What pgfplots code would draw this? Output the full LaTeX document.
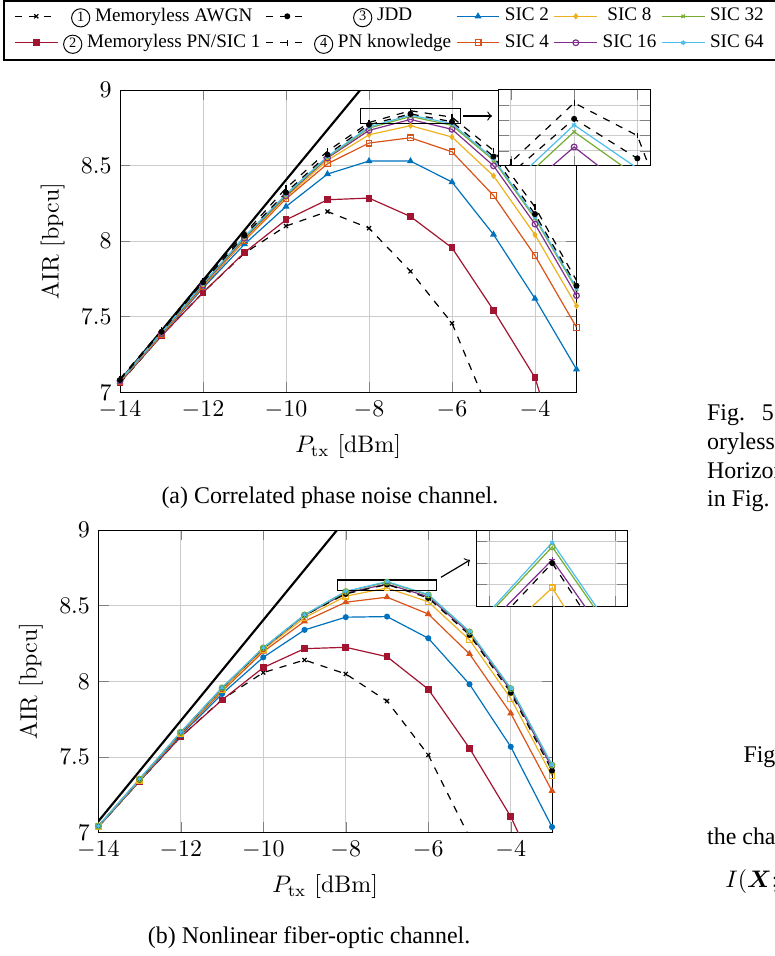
\documentclass[border=0pt]{standalone}
\usepackage{amsmath}
\usepackage{fontspec}
\usepackage{pgfplots}
\usepackage{pgfplotstable}
\pgfplotsset{compat=1.18}
\newfontfamily\tnr{Liberation Serif}

\definecolor{cA}{RGB}{0,114,189}
\definecolor{cB}{RGB}{217,83,25}
\definecolor{cC}{RGB}{237,177,32}
\definecolor{cD}{RGB}{126,47,142}
\definecolor{cE}{RGB}{119,172,48}
\definecolor{cF}{RGB}{77,190,238}
\definecolor{cR}{RGB}{162,20,47}

% (a) correlated phase noise channel
\pgfplotstableread{
x    awgn  pn1   jdd   pnk   s2    s4    s8    s16   s32   s64
-14  7.060 7.064 7.081 7.090 7.068 7.070 7.073 7.075 7.076 7.078
-13  7.375 7.373 7.400 7.410 7.378 7.380 7.385 7.390 7.393 7.395
-12  7.660 7.660 7.728 7.740 7.690 7.700 7.705 7.710 7.715 7.720
-11  7.920 7.925 8.037 8.050 7.980 8.004 8.010 8.020 8.025 8.030
-10  8.100 8.141 8.322 8.350 8.229 8.280 8.290 8.300 8.305 8.310
-9   8.196 8.274 8.572 8.595 8.444 8.512 8.535 8.550 8.555 8.560
-8   8.086 8.285 8.770 8.785 8.530 8.649 8.704 8.733 8.748 8.756
-7   7.800 8.163 8.842 8.863 8.530 8.684 8.764 8.805 8.825 8.834
-6   7.457 7.956 8.790 8.820 8.391 8.591 8.689 8.740 8.766 8.777
-5   6.800 7.543 8.560 8.600 8.044 8.302 8.432 8.499 8.535 8.545
-4   6.100 7.097 8.179 8.225 7.620 7.904 8.042 8.113 8.150 8.160
-3   5.400 6.200 7.705 7.740 7.152 7.430 7.572 7.640 7.680 7.690
}\tabA

% (b) nonlinear fiber-optic channel
\pgfplotstableread{
x    awgn  pn1   jdd   s2    s4    s8    s16   s32   s64
-14  7.038 7.038 7.044 7.040 7.042 7.043 7.044 7.044 7.044
-13  7.340 7.340 7.350 7.342 7.346 7.348 7.352 7.354 7.355
-12  7.634 7.634 7.662 7.645 7.652 7.658 7.662 7.664 7.665
-11  7.880 7.877 7.954 7.917 7.935 7.945 7.955 7.957 7.958
-10  8.058 8.091 8.218 8.159 8.196 8.210 8.218 8.221 8.222
-9   8.141 8.216 8.436 8.340 8.397 8.420 8.435 8.439 8.440
-8   8.049 8.225 8.578 8.424 8.523 8.563 8.584 8.593 8.595
-7   7.870 8.163 8.640 8.428 8.556 8.617 8.643 8.655 8.659
-6   7.514 7.948 8.551 8.285 8.445 8.526 8.560 8.571 8.574
-5   6.970 7.558 8.307 7.981 8.181 8.274 8.318 8.327 8.330
-4   6.300 7.106 7.925 7.568 7.789 7.888 7.940 7.952 7.955
-3   5.600 6.520 7.410 7.038 7.276 7.375 7.430 7.447 7.450
}\tabB

\pgfplotsset{
  air/.style={scale only axis, xmin=-14, xmax=-3, ymin=7, ymax=9,
    xtick={-14,-12,-10,-8,-6,-4}, ytick={7,7.5,8,8.5,9},
    grid=major, major grid style={gray!40},
    xlabel={$P_{\mathrm{tx}}$ [dBm]}, ylabel={AIR [bpcu]},
    every axis plot/.append style={line width=0.5pt, mark size=1.2pt}},
  zoombox/.style={scale only axis, axis background/.style={fill=white},
    xmin=-8.2, xmax=-5.8, xtick={-8,-7,-6}, xticklabels={}, yticklabels={},
    grid=major, major grid style={gray!40},
    every axis plot/.append style={line width=0.5pt, mark size=1.2pt}},
  dsh/.style={black, dashed, mark options={solid}},
  legend image code/.code={\draw[mark repeat=2, mark phase=2, #1]
    plot coordinates {(0cm,0cm) (0.315cm,0cm) (0.63cm,0cm)};},
}

\newcommand\cnum[1]{\tikz[baseline=(n.base)]\node[draw, circle, inner sep=0.6pt,
  line width=0.4pt, font=\tnr\fontsize{6}{7}\selectfont](n){#1};}

\newcommand\capline{\addplot[black, line width=0.9pt, no marks, forget plot]
  coordinates {(-14,7.075) (-8,9.07)};}

\newcommand\plotsA{
  \addplot[dsh, mark=x, forget plot] table[x=x, y=awgn] {\tabA};
  \addplot[cR, mark=square*, forget plot] table[x=x, y=pn1] {\tabA};
  \addplot[cA, mark=triangle*, forget plot] table[x=x, y=s2] {\tabA};
  \addplot[cB, mark=square, forget plot] table[x=x, y=s4] {\tabA};
  \addplot[cC, mark=diamond*, mark size=1pt, forget plot] table[x=x, y=s8] {\tabA};
  \addplot[cD, mark=o, forget plot] table[x=x, y=s16] {\tabA};
  \addplot[cE, mark=x, mark size=1pt, forget plot] table[x=x, y=s32] {\tabA};
  \addplot[cF, mark=asterisk, mark size=1pt, forget plot] table[x=x, y=s64] {\tabA};
  \addplot[dsh, mark=|, forget plot] table[x=x, y=pnk] {\tabA};
  \addplot[dsh, mark=*, mark size=1pt, forget plot] table[x=x, y=jdd] {\tabA};
}

\newcommand\plotsB{
  \addplot[dsh, mark=x, forget plot] table[x=x, y=awgn] {\tabB};
  \addplot[cR, mark=square*, forget plot] table[x=x, y=pn1] {\tabB};
  \addplot[cA, mark=*, mark size=1pt, forget plot] table[x=x, y=s2] {\tabB};
  \addplot[cB, mark=triangle*, forget plot] table[x=x, y=s4] {\tabB};
  \addplot[cC, mark=square, forget plot] table[x=x, y=s8] {\tabB};
  \addplot[cD, mark=+, forget plot] table[x=x, y=s16] {\tabB};
  \addplot[dsh, mark=*, mark size=1pt, forget plot] table[x=x, y=jdd] {\tabB};
  \addplot[cE, mark=o, forget plot] table[x=x, y=s32] {\tabB};
  \addplot[cF, mark=asterisk, mark size=1pt, forget plot] table[x=x, y=s64] {\tabB};
}

\begin{document}
\begin{tikzpicture}
\useasboundingbox (0,0) rectangle (323.95pt,-399.61pt);

% legend frame
\draw[line width=0.5pt] (334pt,-0.42pt) -- (1.67pt,-0.42pt) -- (1.67pt,-25.08pt) -- (334pt,-25.08pt);

% ---------- (a) ----------
\begin{axis}[air, at={(50.16pt,-163.98pt)}, anchor=south west,
  width=190.82pt, height=126.36pt,
  legend columns=5, legend cell align=center,
  legend style={at={(0.5945,1.2001)}, anchor=center, draw=none, fill=none,
    font=\tnr\footnotesize, column sep=0pt, row sep=0pt}]
\addlegendimage{dsh, mark=x, mark size=1.2pt}
\addlegendentry{\cnum{1} Memoryless AWGN}
\addlegendimage{dsh, mark=*, mark size=1pt}
\addlegendentry{\cnum{3} JDD}
\addlegendimage{cA, mark=triangle*, mark size=1.2pt}
\addlegendentry{SIC 2}
\addlegendimage{cC, mark=diamond*, mark size=1pt}
\addlegendentry{SIC 8}
\addlegendimage{cE, mark=x, mark size=1pt}
\addlegendentry{SIC 32}
\addlegendimage{cR, mark=square*, mark size=1.2pt}
\addlegendentry{\cnum{2} Memoryless PN/SIC 1}
\addlegendimage{dsh, mark=|, mark size=1.2pt}
\addlegendentry{\cnum{4} PN knowledge}
\addlegendimage{cB, mark=square, mark size=1.2pt}
\addlegendentry{SIC 4}
\addlegendimage{cD, mark=o, mark size=1.2pt}
\addlegendentry{SIC 16}
\addlegendimage{cF, mark=asterisk, mark size=1pt}
\addlegendentry{SIC 64}
\capline
\plotsA
\draw[black, line width=0.5pt] (axis cs:-8.2,8.78) rectangle (axis cs:-5.8,8.88);
\end{axis}
\begin{axis}[zoombox, at={(208.29pt,-69.39pt)}, anchor=south west,
  width=63.41pt, height=31.77pt, ymin=8.78, ymax=8.88,
  ytick={8.8,8.82,8.84,8.86}]
\plotsA
\end{axis}
\draw[->, line width=0.5pt] (193.53pt,-48.49pt) -- (205.66pt,-48.49pt);
\node[font=\tnr, anchor=base] at (137.9pt,-210.3pt) {(a) Correlated phase noise channel.};

% ---------- (b) ----------
\begin{axis}[air, at={(41.09pt,-348.07pt)}, anchor=south west,
  width=189.65pt, height=126.53pt]
\capline
\plotsB
\draw[black, line width=0.5pt] (axis cs:-8.2,8.60) rectangle (axis cs:-5.8,8.67);
\end{axis}
\begin{axis}[zoombox, at={(199.26pt,-253.43pt)}, anchor=south west,
  width=63.12pt, height=31.6pt, ymin=8.60, ymax=8.67,
  ytick={8.62,8.64,8.66}]
\plotsB
\end{axis}
\draw[->, line width=0.5pt] (184.34pt,-241.31pt) -- (196.46pt,-234.08pt);
\node[font=\tnr, anchor=base] at (129.2pt,-394.2pt) {(b) Nonlinear fiber-optic channel.};

% neighbouring column of the page
\begin{scope}[every node/.style={font=\tnr, anchor=base west, inner sep=0pt}]
\node at (295.4pt,-175.56pt) {Fig.\hspace{7pt}5: AIR results for};
\node at (295.4pt,-187.8pt) {oryless receivers and};
\node at (295.4pt,-199.93pt) {Horizontal lines mark};
\node at (295.4pt,-211.8pt) {in Fig. 4 for the};
\node at (310.6pt,-318.8pt) {Fig. 6: Scheme};
\node at (295.4pt,-353.2pt) {the channel law};
\node at (303.05pt,-370.8pt) {$I(\boldsymbol{X};\boldsymbol{Y})$};
\end{scope}
\end{tikzpicture}
\end{document}
